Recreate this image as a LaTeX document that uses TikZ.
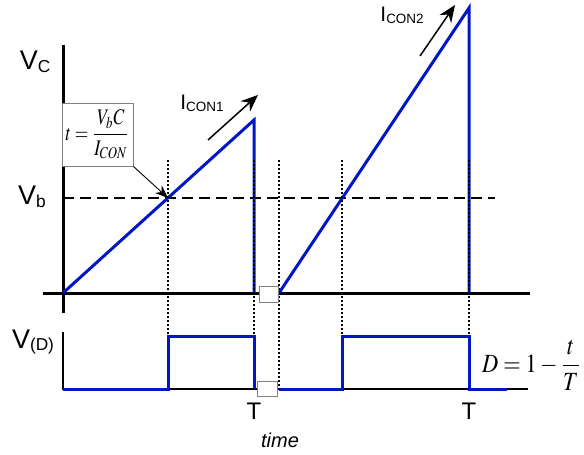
\documentclass[tikz,border=0pt]{standalone}
\usepackage{mathptmx}
\usepackage[no-math]{fontspec}
\usepackage{graphicx}
\setmainfont{Liberation Sans}
\usetikzlibrary{arrows.meta, positioning}

\definecolor{waveblue}{RGB}{0,24,196}
\newcommand{\lowsub}[1]{\raisebox{-0.1em}{\scalebox{0.64}{#1}}}

\begin{document}
\begin{tikzpicture}[x=1pt, y=-1pt,
    axis/.style={line width=3pt},
    thinaxis/.style={line width=1.4pt},
    wave/.style={draw=waveblue, line width=3pt},
    guide/.style={dash pattern=on 2pt off 2pt, line width=1.3pt},
    level/.style={dash pattern=on 11pt off 6pt, line width=1.4pt},
    gapbox/.style={draw=gray, fill=white, line width=0.8pt, minimum width=19pt, minimum height=16pt, inner sep=0pt},
    biglbl/.style={font=\fontsize{27}{30}\selectfont, inner sep=0pt},
    midlbl/.style={font=\fontsize{21}{24}\selectfont, inner sep=0pt},
    formula/.style={inner sep=0pt},
    arr/.style={-{Stealth[length=17pt, width=14pt]}, line width=1.5pt},
    thinarr/.style={-{Stealth[length=13pt, width=10pt]}, line width=0.9pt},
]
\useasboundingbox (0,0) rectangle (584,455);

% top plot: capacitor voltage
\coordinate (ytop) at (63,45);
\coordinate (ybot) at (63,313);
\coordinate (xl) at (43,293);
\coordinate (xr) at (530,293);
\coordinate (o1) at (63,293);
\coordinate (pk1) at (254,120);
\coordinate (dn1) at (254,293);
\coordinate (st2) at (279,293);
\coordinate (pk2) at (469,8);
\coordinate (dn2) at (469,293);
\coordinate (vb0) at (63,198);
\coordinate (vb1) at (495,198);
\coordinate (cross1) at (168,198);

\draw[axis] (ytop) -- (ybot);
\draw[axis] (xl) -- (xr);
\draw[level] (vb0) -- (vb1);
\draw[wave] (o1) -- (pk1) -- (dn1);
\draw[wave] (st2) -- (pk2) -- (dn2);

% bottom plot: duty signal
\coordinate (dtop) at (63,332);
\coordinate (o2) at (63,389);
\coordinate (xr2) at (528,389);
\coordinate (up1) at (168,389);
\coordinate (hi1) at (168,336);
\coordinate (hi1e) at (254,336);
\coordinate (lo1) at (254,389);
\coordinate (lo2) at (279,389);
\coordinate (up2) at (342,389);
\coordinate (hi2) at (342,336);
\coordinate (hi2e) at (469,336);
\coordinate (lo3) at (469,389);
\coordinate (end2) at (507,389);

\draw[thinaxis] (dtop) -- (o2) -- (xr2);
\draw[wave] (o2) -- (up1) -- (hi1) -- (hi1e) -- (lo1);
\draw[wave] (lo2) -- (up2) -- (hi2) -- (hi2e) -- (lo3) -- (end2);

\foreach \gx/\gy in {168/336, 254/336, 279/389, 342/336, 469/336}
    \draw[guide] (\gx,160) -- (\gx,\gy);

\node[gapbox] (gap1) at (268.5,294) {};
\node[gapbox, minimum width=20pt, minimum height=15pt] (gap2) at (267,388.5) {};

% labels
\node[biglbl] (vc) at (35,62) {V\lowsub{C}};
\node[biglbl] (vb) at (32,197) {V\lowsub{b}};
\node[biglbl] (vd) at (33,342) {V\lowsub{(D)}};
\node[midlbl] (icon1) at (202,103) {I\lowsub{CON1}};
\node[midlbl] (icon2) at (402,15) {I\lowsub{CON2}};
\node[midlbl, below=14pt of lo1, font=\fontsize{24}{26}\selectfont] (t1) {T};
\node[midlbl, below=14pt of lo3, font=\fontsize{24}{26}\selectfont] (t2) {T};
\node[midlbl, font=\fontsize{20}{22}\selectfont\itshape] (time) at (280,440) {time};

\node[formula, draw=gray, fill=white, line width=0.8pt, minimum width=71pt, minimum height=63pt] (tbox) at (97.5,134.5)
    {\resizebox*{64pt}{49pt}{$\displaystyle t=\frac{V_bC}{I_{CON}}$}};
\node[formula, anchor=west] (duty) at (482,365)
    {\resizebox*{99pt}{50pt}{$\displaystyle D=1-\frac{t}{T}$}};

% arrows
\coordinate (a1s) at (208,140);
\coordinate (a1e) at (258,95);
\coordinate (a2s) at (420,56);
\coordinate (a2e) at (455,5);
\draw[arr] (a1s) -- (a1e);
\draw[arr] (a2s) -- (a2e);
\draw[thinarr] (tbox.south east) -- (cross1);

\end{tikzpicture}
\end{document}
